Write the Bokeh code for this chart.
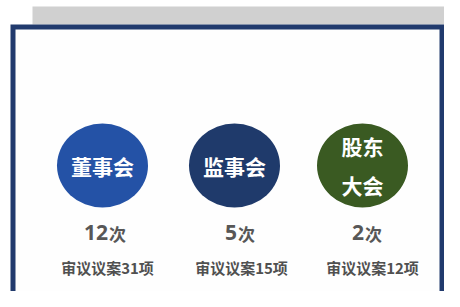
from bokeh.plotting import figure
from bokeh.models import Range1d, ColumnDataSource
from bokeh.core.properties import value
from bokeh.embed import file_html
from bokeh.resources import INLINE

# data
bodies = ["董事会", "监事会", "股东\n大会"]
meetings = [12, 5, 2]
unit = "次"
proposals = [31, 15, 12]
proposal_prefix = "审议议案"
proposal_suffix = "项"

# layout (reference pixel space)
cx = [102, 234, 362]
cy = 165
num_x = [106, 241, 368]
num_y = 232
sub_x = [107, 241, 372]
sub_y = 267
circle_colors = ["#2452a6", "#1f3a6b", "#3a5a22"]
navy = "#213a6d"

W, H = 444, 291
p = figure(width=W, height=H, output_backend="svg", toolbar_location=None,
           x_range=Range1d(0, W), y_range=Range1d(H, 0),
           min_border=0, outline_line_color=None, background_fill_color="white",
           border_fill_color="white")
p.axis.visible = False
p.grid.visible = False

# top gray band and frame
p.quad(left=32, right=W + 5, top=6, bottom=24, fill_color="#d0d0d0", line_color=None)
p.quad(left=10, right=W, top=24, bottom=H + 20, fill_color=navy, line_color=None)
p.quad(left=15, right=W - 5, top=29, bottom=H + 20, fill_color="#fefefe", line_color=None)

src = ColumnDataSource(dict(x=cx, y=[cy] * 3, label=bodies, color=circle_colors))
p.ellipse(x="x", y="y", width=91, height=84, fill_color="color", line_color=None, source=src)
p.text(x="x", y="y", text="label", text_color="white", text_align="center",
       text_baseline="middle", text_font=value("Noto Sans CJK SC"), text_font_style="bold",
       text_font_size="21px", text_line_height=1.3, source=src)

# numbers with unit
num_w = [len(str(m)) * 12 for m in meetings]
unit_w = 21
left = [c - (w + unit_w) / 2 for c, w in zip(num_x, num_w)]
split = [l + w for l, w in zip(left, num_w)]
p.text(x=split, y=[num_y] * 3, text=[str(m) for m in meetings], text_color="#575757",
       text_align="right", text_baseline="middle", text_font=value("Open Sans"),
       text_font_style="bold", text_font_size="21px")
p.text(x=[s + 1 for s in split], y=[num_y + 1] * 3, text=[unit] * 3, text_color="#575757",
       text_align="left", text_baseline="middle", text_font=value("Noto Sans CJK SC"),
       text_font_style="bold", text_font_size="17px")

p.text(x=sub_x, y=[sub_y] * 3,
       text=[f"{proposal_prefix}{n}{proposal_suffix}" for n in proposals],
       text_color="#505050", text_align="center", text_baseline="middle",
       text_font=value("Noto Sans CJK SC"), text_font_style="bold", text_font_size="15px")

open("out.html", "w").write(file_html(p, INLINE))
